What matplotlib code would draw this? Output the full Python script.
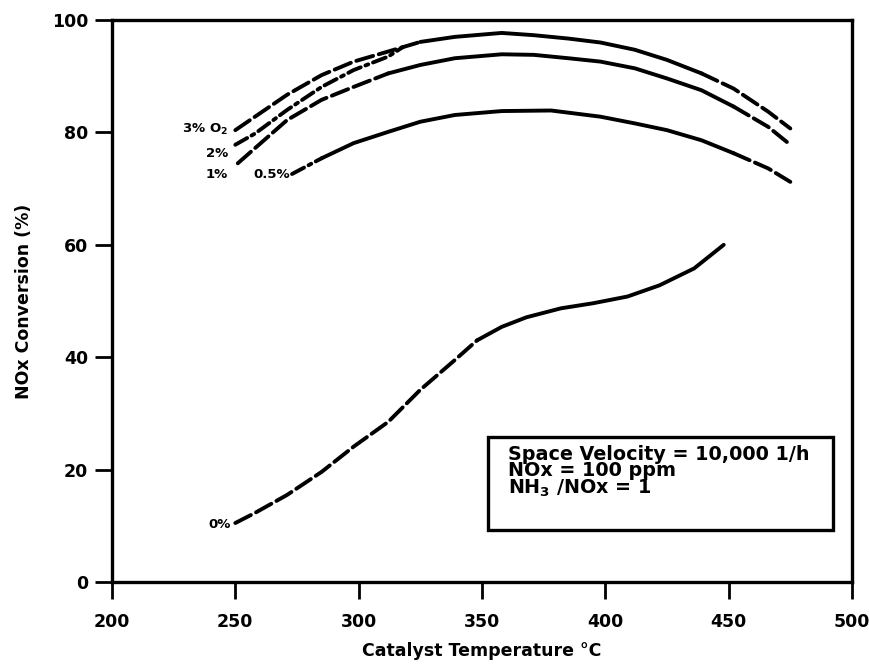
import matplotlib
matplotlib.use("Agg")
import matplotlib.pyplot as plt
from matplotlib.patches import Rectangle
import numpy as np

plt.rcParams['font.family'] = ['DejaVu Sans']
plt.rcParams['font.weight'] = 'bold'
plt.rcParams['mathtext.default'] = 'bf'

# catalyst temperature (C) and NOx conversion (%) for each O2 level
t_o2_3 = np.array([250, 258, 271, 285, 298, 312, 325, 339, 358, 371, 385, 398, 412, 425, 439, 452, 466, 475])
v_o2_3 = np.array([80.4, 82.8, 86.7, 90.2, 92.6, 94.4, 96.1, 97.0, 97.7, 97.3, 96.7, 96.0, 94.7, 92.9, 90.5, 87.8, 83.7, 80.7])

t_o2_2 = np.array([250, 258, 271, 285, 298, 312, 318])
v_o2_2 = np.array([77.8, 79.8, 84.0, 88.1, 91.1, 93.5, 95.2])

t_o2_1 = np.array([251, 258, 271, 285, 298, 312, 325, 339, 358, 371, 385, 398, 412, 425, 439, 452, 466, 475])
v_o2_1 = np.array([74.5, 77.2, 82.2, 85.8, 88.1, 90.5, 92.0, 93.2, 93.9, 93.8, 93.2, 92.6, 91.4, 89.6, 87.5, 84.6, 81.0, 77.8])

t_o2_05 = np.array([273, 285, 298, 312, 325, 339, 358, 378, 398, 412, 425, 439, 452, 466, 475])
v_o2_05 = np.array([72.6, 75.4, 78.1, 80.1, 81.9, 83.1, 83.8, 83.9, 82.8, 81.6, 80.4, 78.6, 76.3, 73.6, 71.2])

t_o2_0 = np.array([250, 258, 271, 285, 298, 312, 325, 339, 348, 358, 368, 382, 395, 409, 422, 436, 448])
v_o2_0 = np.array([10.5, 12.3, 15.5, 19.6, 24.1, 28.5, 34.2, 39.5, 43.0, 45.4, 47.1, 48.7, 49.6, 50.8, 52.8, 55.8, 60.0])

LW = 2.8
DASH = (0, (4.5, 1.5))
DASHDOT = (0, (3.5, 1.3, 0.8, 1.3))


def draw(ax, t, v, parts):
    # parts: list of (t_from, t_to, linestyle)
    for lo, hi, ls in parts:
        m = (t >= lo) & (t <= hi)
        ax.plot(t[m], v[m], color='black', lw=LW, ls=ls, solid_capstyle='round',
                dash_capstyle='round', solid_joinstyle='round')


fig = plt.figure(figsize=(8.7, 6.67), dpi=100)
ax = fig.add_axes([0.1287, 0.1274, 0.8506, 0.8426])

draw(ax, t_o2_3, v_o2_3, [(250, 325, DASH), (325, 439, '-'), (439, 475, DASH)])
draw(ax, t_o2_2, v_o2_2, [(250, 318, DASHDOT)])
draw(ax, t_o2_1, v_o2_1, [(251, 312, DASH), (312, 452, '-'), (452, 475, DASH)])
draw(ax, t_o2_05, v_o2_05, [(273, 285, DASHDOT), (285, 452, '-'), (452, 475, DASH)])
draw(ax, t_o2_0, v_o2_0, [(250, 348, DASH), (348, 448, '-')])

lab = dict(fontsize=9.5, fontweight='bold', ha='right', va='center')
ax.text(247, 80.6, '3% O$_2$', **lab)
ax.text(247, 76.3, '2%', **lab)
ax.text(247, 72.6, '1%', **lab)
ax.text(272, 72.6, '0.5%', **lab)
ax.text(248, 10.2, '0%', **lab)

ax.add_patch(Rectangle((0.508, 0.0925), 0.466, 0.1655, transform=ax.transAxes,
                       fill=False, ec='black', lw=2.4, zorder=3))
ax.text(0.535, 0.196, 'Space Velocity = 10,000 1/h\nNOx = 100 ppm\nNH$_3$ /NOx = 1',
        transform=ax.transAxes, fontsize=13.8, fontweight='bold', ha='left', va='center',
        linespacing=0.82)

ax.set_xlim(200, 500)
ax.set_ylim(0, 100)
ax.set_xticks([200, 250, 300, 350, 400, 450, 500])
ax.set_yticks([0, 20, 40, 60, 80, 100])
ax.tick_params(direction='out', length=12, width=2, labelsize=12.5)
ax.tick_params(axis='x', pad=10)
ax.tick_params(axis='y', pad=5)
for lbl in ax.get_xticklabels() + ax.get_yticklabels():
    lbl.set_fontweight('bold')
for sp in ax.spines.values():
    sp.set_linewidth(2.4)

ax.set_xlabel('Catalyst Temperature \u00b0C', fontsize=12.5, fontweight='bold', labelpad=8)
ax.set_ylabel('NOx Conversion (%)', fontsize=12.5, fontweight='bold', labelpad=14)

fig.savefig('out.png', dpi=100)
